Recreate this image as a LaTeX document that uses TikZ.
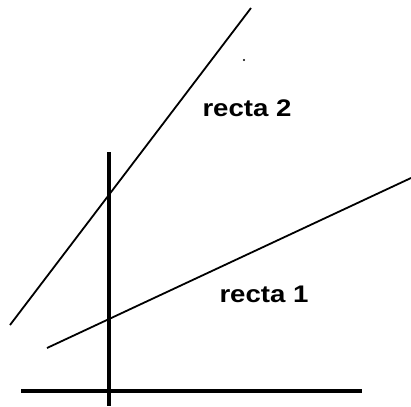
\documentclass[tikz,border=0pt]{standalone}
\usepackage{fontspec}
\usepackage{graphicx}
\newfontfamily\lblfont{Liberation Sans}
\tikzset{
  axis/.style={line width=3.6pt, black},
  recta/.style={line width=1.8pt, black},
  lbl/.style={font=\lblfont\bfseries\fontsize{24}{26}\selectfont, inner sep=0pt, anchor=center}
}
\begin{document}
\begin{tikzpicture}[x=1pt,y=-1pt]
\useasboundingbox (0,0) rectangle (411,406);
% axes
\coordinate (hL) at (21,391);
\coordinate (hR) at (362,391);
\coordinate (vT) at (109,152);
\coordinate (vB) at (109,406);
\draw[axis] (hL) -- (hR);
\draw[axis] (vT) -- (vB);
% lines
\coordinate (r2a) at (10,325);
\coordinate (r2b) at (251,8);
\coordinate (r1a) at (47,348);
\coordinate (r1b) at (411,178);
\draw[recta] (r2a) -- (r2b);
\draw[recta] (r1a) -- (r1b);
% labels
\node[lbl] (l2) at (247,108) {\scalebox{1.15}[1]{recta 2}};
\node[lbl] (l1) at (264,294) {\scalebox{1.15}[1]{recta 1}};
% stray dot
\fill (244,60) circle (1.2);
\end{tikzpicture}
\end{document}
